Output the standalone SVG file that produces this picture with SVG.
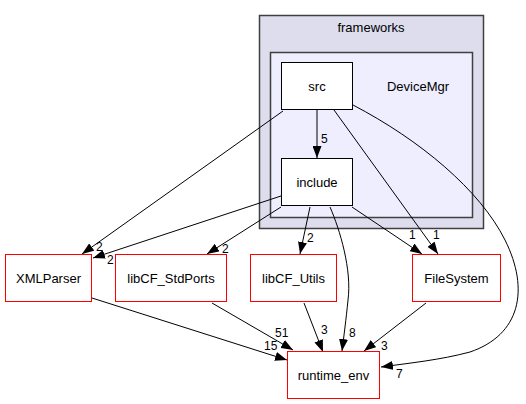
<svg xmlns="http://www.w3.org/2000/svg" width="526" height="404" viewBox="0 0 526 404">
<style>
text{font-family:"Liberation Sans",Arial,sans-serif;font-size:13px;fill:#000}
.c{text-anchor:middle}
.l{font-size:12px}
.nd{fill:#fff;stroke:#000;stroke-width:1}
.ext{fill:#fff;stroke:#ff0000;stroke-width:1}
.e{fill:none;stroke:#000;stroke-width:1;marker-end:url(#ah)}
</style>
<defs>
<marker id="ah" viewBox="0 0 12 9" refX="12" refY="4.5" markerWidth="12" markerHeight="9" markerUnits="userSpaceOnUse" orient="auto">
<path d="M0,0 L12,4.5 L0,9 z" fill="#000"/>
</marker>
</defs>
<rect width="526" height="404" fill="#fff"/>
<g id="cluster_frameworks">
<rect x="259.5" y="15.5" width="224" height="213" fill="#ddddee" stroke="#404040" stroke-width="1.5"/>
<text class="c" x="371" y="32">frameworks</text>
</g>
<g id="cluster_DeviceMgr">
<rect x="270.5" y="52.5" width="202" height="165" fill="#eeeeff" stroke="#404040" stroke-width="1.5"/>
<text class="c" x="418" y="91">DeviceMgr</text>
</g>
<g id="connectors">
<path class="e" d="M317,110 L317,158"/>
<text class="l" x="321" y="143">5</text>
<path class="e" d="M283,111 L82,254"/>
<text class="l" x="96" y="251">2</text>
<path class="e" d="M334,110 L438,254"/>
<text class="l" x="433" y="239">1</text>
<path class="e" d="M353,105 C420,140 480,190 505,240 C530,290 520,335 470,352 C440,360 410,363 381,367"/>
<text class="l" x="396" y="378">7</text>
<path class="e" d="M281,196 L93,258"/>
<text class="l" x="107" y="264">2</text>
<path class="e" d="M281,207 L207,254"/>
<text class="l" x="222" y="253">2</text>
<path class="e" d="M310,207 L300,254"/>
<text class="l" x="307" y="242">2</text>
<path class="e" d="M330,207 C340,230 352,270 348,300 C346,320 344,335 342,351"/>
<text class="l" x="349" y="337">8</text>
<path class="e" d="M352,207 L422,254"/>
<text class="l" x="409" y="239">1</text>
<path class="e" d="M92,298 L287,360"/>
<text class="l" x="264" y="350">15</text>
<path class="e" d="M212,303 L293,350"/>
<text class="l" x="275" y="337">51</text>
<path class="e" d="M304,303 L323,352"/>
<text class="l" x="321" y="334">3</text>
<path class="e" d="M426,303 L364,351"/>
<text class="l" x="381" y="350">3</text>
</g>
<g id="node_src">
<rect class="nd" x="281.5" y="62.5" width="71" height="47"/>
<text class="c" x="317" y="91">src</text>
</g>
<g id="node_include">
<rect class="nd" x="281.5" y="158.5" width="71" height="47"/>
<text class="c" x="317" y="187">include</text>
</g>
<g id="node_XMLParser">
<rect class="ext" x="5.5" y="254.5" width="86" height="47"/>
<text class="c" x="48.5" y="283">XMLParser</text>
</g>
<g id="node_libCF_StdPorts">
<rect class="ext" x="115.5" y="254.5" width="111" height="47"/>
<text class="c" x="171" y="283">libCF_StdPorts</text>
</g>
<g id="node_libCF_Utils">
<rect class="ext" x="250.5" y="254.5" width="86" height="47"/>
<text class="c" x="293.5" y="283">libCF_Utils</text>
</g>
<g id="node_FileSystem">
<rect class="ext" x="412.5" y="254.5" width="88" height="47"/>
<text class="c" x="456.5" y="283">FileSystem</text>
</g>
<g id="node_runtime_env">
<rect class="ext" x="287.5" y="351.5" width="92" height="47"/>
<text class="c" x="333.5" y="380">runtime_env</text>
</g>
</svg>
